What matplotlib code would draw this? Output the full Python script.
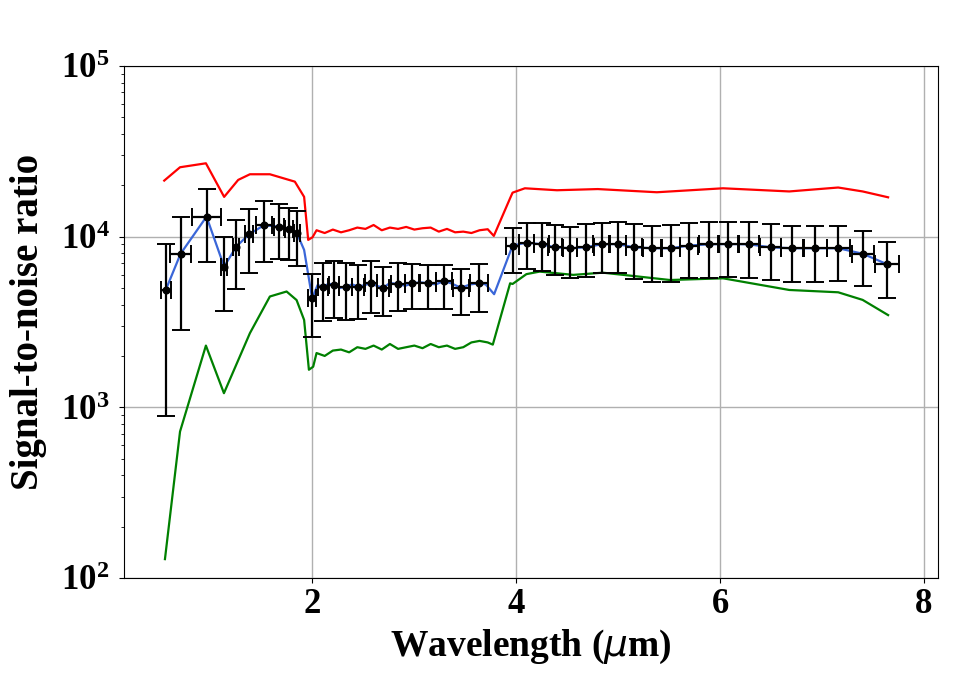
import numpy as np
import matplotlib
matplotlib.use('Agg')
import matplotlib.pyplot as plt

plt.rcParams['font.family'] = ['Liberation Serif', 'DejaVu Serif']
plt.rcParams['font.weight'] = 'bold'
plt.rcParams['mathtext.fontset'] = 'custom'
plt.rcParams['mathtext.it'] = 'DejaVu Sans:italic:normal'
plt.rcParams['mathtext.rm'] = 'Liberation Serif:bold'
plt.rcParams['mathtext.bf'] = 'Liberation Serif:bold'

# binned observation points (wavelength in um, S/N)
wl_bins = [0.56, 0.705, 0.96, 1.133, 1.251, 1.376, 1.523, 1.673, 1.768, 1.847,
           1.997, 2.105, 2.213, 2.325, 2.449, 2.573, 2.694, 2.841, 2.978, 3.136,
           3.293, 3.456, 3.636,
           3.964, 4.101, 4.248, 4.382, 4.526, 4.680, 4.837, 4.994, 5.157, 5.334,
           5.517, 5.694, 5.890, 6.080, 6.283, 6.496, 6.705, 6.937, 7.163, 7.404, 7.640]
snr_bins = [4870, 7930, 13100, 6670, 8730, 10300, 11660, 11450, 11140, 10470,
            4350, 5090, 5210, 5090, 5090, 5330, 5020, 5280, 5330, 5330,
            5500, 5020, 5330,
            8860, 9230, 9020, 8660, 8550, 8660, 9020, 9050, 8660, 8550,
            8550, 8860, 9020, 9050, 9020, 8660, 8550, 8550, 8550, 7930, 6890]
snr_hi = [9020, 13000, 19000, 9910, 12470, 14500, 16100, 15600, 14700, 14120,
          6030, 7050, 7180, 7050, 6790, 7180, 6670, 6980, 6940, 6830,
          6830, 6470, 6940,
          11300, 12080, 12080, 11660, 11450, 11860, 12080, 12250, 11860, 11550,
          11750, 12080, 12250, 12250, 12250, 11860, 11600, 11600, 11600, 10800, 9350]
snr_lo = [893, 2830, 7110, 3670, 4940, 6150, 7110, 7390, 7280, 6730,
          2580, 3220, 3330, 3260, 3290, 3560, 3440, 3680, 3760, 3760,
          3780, 3470, 3640,
          6150, 6440, 6300, 5970, 5700, 5830, 6110, 6150, 5640, 5450,
          5400, 5700, 5750, 5780, 5700, 5570, 5450, 5450, 5520, 5140, 4390]
wl_halfwidth = [0.05, 0.10, 0.14, 0.03, 0.03, 0.04, 0.08, 0.05, 0.04, 0.03,
                0.04, 0.05, 0.05, 0.06, 0.06, 0.06, 0.06, 0.07, 0.07, 0.08,
                0.08, 0.08, 0.09,
                0.06, 0.07, 0.07, 0.07, 0.07, 0.08, 0.08, 0.08, 0.08, 0.09,
                0.09, 0.09, 0.10, 0.10, 0.10, 0.10, 0.11, 0.11, 0.11, 0.11, 0.12]

# model curve
wl_model = [0.56, 0.705, 0.96, 1.133, 1.251, 1.376, 1.523, 1.673, 1.768, 1.847,
            1.918, 1.997, 2.05, 2.105, 2.16, 2.213, 2.27, 2.325, 2.39, 2.449,
            2.51, 2.573, 2.63, 2.694, 2.76, 2.841, 2.91, 2.978, 3.06, 3.136,
            3.21, 3.293, 3.37, 3.456, 3.55, 3.636, 3.70, 3.783,
            3.964, 4.101, 4.248, 4.382, 4.526, 4.680, 4.837, 4.994, 5.157, 5.334,
            5.517, 5.694, 5.890, 6.080, 6.283, 6.496, 6.705, 6.937, 7.163, 7.404, 7.640]
snr_model = [4870, 7930, 13100, 6670, 8730, 10300, 11660, 11450, 11140, 10470,
             8360, 4350, 5200, 5090, 5300, 5210, 5000, 5090, 5250, 5090,
             5200, 5330, 5150, 5020, 5350, 5280, 5150, 5330, 5400, 5330,
             5250, 5500, 5300, 5020, 5250, 5330, 5250, 4600,
             8860, 9230, 9020, 8660, 8550, 8660, 9020, 9050, 8660, 8550,
             8550, 8860, 9020, 9050, 9020, 8660, 8550, 8550, 8550, 7930, 6890]

# upper envelope
wl_upper = [0.545, 0.70, 0.954, 1.133, 1.271, 1.386, 1.582, 1.827, 1.918, 1.958,
            2.0, 2.04, 2.12, 2.2, 2.28, 2.36, 2.44, 2.52, 2.6, 2.68, 2.76, 2.84,
            2.92, 3.0, 3.08, 3.16, 3.24, 3.32, 3.4, 3.48, 3.56, 3.64, 3.72, 3.78,
            3.94, 3.964, 4.085, 4.4, 4.8, 5.38, 6.03, 6.68, 7.16, 7.40, 7.65]
snr_upper = [21300, 25500, 26900, 17100, 21500, 23200, 23200, 21000, 17100, 9570,
             9910, 10900, 10500, 11000, 10600, 10900, 11300, 11100, 11700, 10900, 11300, 11100,
             11400, 11000, 11200, 11300, 10700, 11100, 10600, 10700, 10500, 10900, 11050, 10100,
             16800, 18100, 19200, 18700, 19000, 18200, 19200, 18400, 19400, 18400, 17000]

# lower envelope
wl_lower = [0.552, 0.70, 0.954, 1.131, 1.386, 1.582, 1.746, 1.844, 1.918, 1.965,
            2.007, 2.04, 2.12, 2.2, 2.28, 2.36, 2.44, 2.52, 2.6, 2.68, 2.76, 2.84,
            2.92, 3.0, 3.08, 3.16, 3.24, 3.32, 3.4, 3.48, 3.56, 3.64, 3.72, 3.77,
            3.94, 3.964, 4.10, 4.23, 4.56, 4.85, 5.05, 5.51, 6.03, 6.68, 7.16, 7.40, 7.65]
snr_lower = [129, 721, 2300, 1210, 2720, 4460, 4770, 4250, 3250, 1660,
             1730, 2080, 2000, 2150, 2180, 2100, 2250, 2200, 2300, 2180, 2350, 2200,
             2250, 2300, 2220, 2350, 2250, 2300, 2200, 2250, 2400, 2450, 2400, 2330,
             5330, 5280, 6030, 6240, 5970, 6150, 5970, 5570, 5700, 4870, 4720, 4260, 3470]

fig = plt.figure(figsize=(9.56, 6.8), dpi=100)
ax = fig.add_axes([0.1297, 0.15, 0.8515, 0.753])

ax.plot(wl_upper, snr_upper, color='red', lw=1.6, zorder=2)
ax.plot(wl_lower, snr_lower, color='green', lw=1.6, zorder=2)
ax.plot(wl_model, snr_model, color='#3a66d8', lw=1.6, zorder=3)

snr_bins = np.array(snr_bins)
yerr = [snr_bins - np.array(snr_lo), np.array(snr_hi) - snr_bins]
ax.errorbar(wl_bins, snr_bins, yerr=yerr, xerr=wl_halfwidth, fmt='o', color='black',
            ms=4.8, elinewidth=1.6, capsize=6.2, capthick=1.4, zorder=4)

ax.set_yscale('log')
ax.set_ylim(1e2, 1e5)
ax.set_xlim(0.15, 8.14)
ax.set_xticks([2, 4, 6, 8])
ax.grid(True, which='major', color='#b0b0b0', lw=1.0)
ax.set_axisbelow(True)
ax.tick_params(axis='both', which='major', labelsize=25)
ax.tick_params(axis='y', which='major', pad=7)

ax.set_xlabel(r'Wavelength ($\mu$m)', fontsize=27, fontweight='bold', labelpad=5)
ax.set_ylabel('Signal-to-noise ratio', fontsize=28, fontweight='bold', labelpad=10)

plt.savefig('out.png', dpi=100, facecolor='white')
